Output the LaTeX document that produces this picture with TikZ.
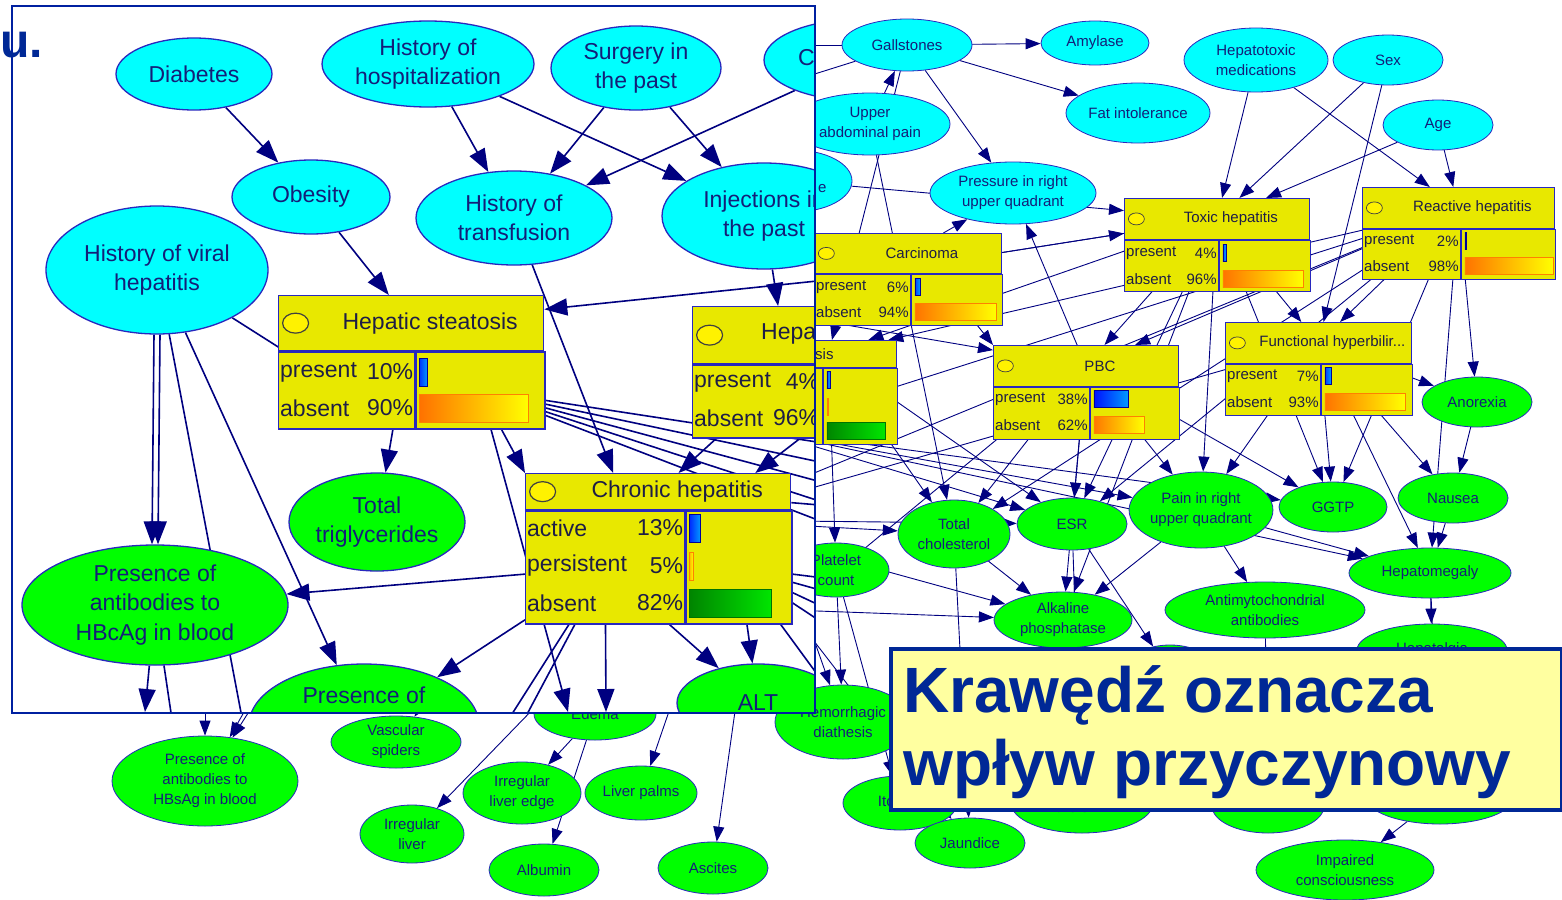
\documentclass[tikz,border=0pt]{standalone}
\usepackage{fontspec}
\setmainfont{Liberation Sans}
\usetikzlibrary{arrows.meta, positioning, shapes.geometric}

\definecolor{netcyan}{RGB}{0,255,255}
\definecolor{netgreen}{RGB}{0,255,0}
\definecolor{netyellow}{RGB}{232,232,0}
\definecolor{nodeline}{RGB}{40,40,190}
\definecolor{nettext}{RGB}{20,30,120}
\definecolor{boxtext}{RGB}{30,30,70}
\definecolor{arcnavy}{RGB}{0,0,128}
\definecolor{frameblue}{RGB}{0,32,160}
\definecolor{notefill}{RGB}{255,255,160}
\definecolor{noteblue}{RGB}{0,40,150}

\newcommand{\bgfont}{\fontsize{15}{20}\selectfont}
\newcommand{\infont}{\fontsize{23}{29.5}\selectfont}
\newcommand{\barh}{17}

\pgfdeclarelayer{bgedge}
\pgfdeclarelayer{bgnode}
\pgfdeclarelayer{infill}
\pgfdeclarelayer{inedge}
\pgfsetlayers{bgedge,bgnode,infill,inedge,main}

% box: name, x, y, width, head height, body height, split, title
\newcommand{\cptbox}[8]{%
  \node[cpthead, minimum width=#4pt, minimum height=#5pt, anchor=north west] (#1) at (#2,#3) {};
  \node[cpthead, minimum width=#7pt, minimum height=#6pt, anchor=north west] (#1-l) at (#1.south west) {};
  \node[cpthead, minimum width=#4pt-#7pt, minimum height=#6pt, anchor=north west] (#1-r) at (#1-l.north east) {};
  \node[cptdot, right=4pt of #1.west] (#1-d) {};
  \node[cpttitle] (#1-t) at (#1.center) {#8};
}
% row: box, index, y, state, percent, bar length, bar style
\newcommand{\cptrow}[7]{%
  \node[cpttext, anchor=west] (#1-s#2) at (#1-l.west |- 0,#3) {#4};
  \node[cpttext, anchor=east] (#1-v#2) at (#1-l.east |- 0,#3) {#5};
  \draw[#7] (#1-r.west |- 0,#3) ++(4,-\barh/2) rectangle ++(#6,\barh);
}

\begin{document}
\begin{tikzpicture}[x=1pt, y=-1pt,
    bgin/.style={ellipse, draw=nodeline, fill=netcyan, line width=0.8pt, inner sep=0pt,
      align=center, text=nettext, font=\bgfont},
    bgout/.style={bgin, fill=netgreen},
    cpthead/.style={draw=nodeline, fill=netyellow, line width=0.8pt, inner sep=0pt},
    cptdot/.style={ellipse, draw=black!75, fill=yellow, line width=0.7pt,
      minimum width=16pt, minimum height=12pt, inner sep=0pt},
    cptlabel/.style={font=\bgfont, text=boxtext, inner sep=1pt},
    cpttitle/.style={cptlabel, xshift=14pt},
    cpttext/.style={cptlabel, inner sep=2pt},
    barblue/.style={draw=blue!60!black, line width=0.6pt, left color=blue, right color=cyan!60!blue},
    barorange/.style={draw=orange, line width=0.6pt, left color=orange!85!red, right color=yellow},
    bargreen/.style={draw=green!45!black, line width=0.6pt, left color=green!50!black, right color=green!90!black},
    arrow/.style={draw=arcnavy, line width=0.9pt, -{Triangle[length=15pt,width=11pt]}},
    notebox/.style={draw=noteblue, fill=notefill, line width=3.5pt},
    notetext/.style={font={\fontsize{64}{73}\selectfont\bfseries}, text=noteblue, inner sep=0pt}
  ]
  \useasboundingbox (0,0) rectangle (1562,899);

  % whole network, small
  \begin{pgfonlayer}{bgnode}
    \node[bgin, minimum width=130pt, minimum height=52pt] (gall) at (907,45) {Gallstones};
    \node[bgin, minimum width=108pt, minimum height=44pt] (amyl) at (1095,43) {Amylase};
    \node[bgin, minimum width=144pt, minimum height=64pt] (hepmed) at (1256,60) {Hepatotoxic\\medications};
    \node[bgin, minimum width=110pt, minimum height=50pt] (sex) at (1388,60) {Sex};
    \node[bgin, minimum width=110pt, minimum height=50pt] (age) at (1438,125) {Age};
    \node[bgin, minimum width=160pt, minimum height=62pt] (upab) at (870,124) {Upper\\abdominal pain};
    \node[bgin, minimum width=144pt, minimum height=60pt] (fatint) at (1138,113) {Fat intolerance};
    \node[bgin, minimum width=166pt, minimum height=62pt] (press) at (1013,193) {Pressure in right\\upper quadrant};
    \node[bgin, minimum width=116pt, minimum height=62pt] (injbg) at (794,181) {};
    \node[cptlabel, anchor=west, text=nettext] (injbg-t) at (817,189) {e};

    \node[bgout, minimum width=110pt, minimum height=50pt] (anor) at (1477,402) {Anorexia};
    \node[bgout, minimum width=110pt, minimum height=50pt] (naus) at (1453,498) {Nausea};
    \node[bgout, minimum width=108pt, minimum height=50pt] (ggtp) at (1333,507) {GGTP};
    \node[bgout, minimum width=140pt, minimum height=76pt] (pain) at (1201,510) {Pain in right\\upper quadrant};
    \node[bgout, minimum width=110pt, minimum height=52pt] (esr) at (1072,524) {ESR};
    \node[bgout, minimum width=112pt, minimum height=68pt] (chol) at (954,534) {Total\\cholesterol};
    \node[bgout, minimum width=106pt, minimum height=54pt] (plat) at (836,570) {Platelet\\count};
    \node[bgout, minimum width=138pt, minimum height=56pt] (alk) at (1063,620) {Alkaline\\phosphatase};
    \node[bgout, minimum width=200pt, minimum height=56pt] (antim) at (1265,610) {Antimytochondrial\\antibodies};
    \node[bgout, minimum width=162pt, minimum height=50pt] (hmeg) at (1430,573) {Hepatomegaly};
    \node[bgout, minimum width=150pt, minimum height=52pt] (halg) at (1432,650) {Hepatalgia};
    \node[bgout, minimum width=92pt, minimum height=54pt] (hidg) at (1170,672) {};
    \node[bgout, minimum width=136pt, minimum height=74pt] (hemor) at (843,722) {Hemorrhagic\\diathesis};
    \node[bgout, minimum width=114pt, minimum height=54pt] (itch) at (900,803) {Itching};
    \node[bgout, minimum width=110pt, minimum height=50pt] (jaund) at (970,843) {Jaundice};
    \node[bgout, minimum width=142pt, minimum height=60pt] (skin) at (1082,803) {\mbox{}\\the skin};
    \node[bgout, minimum width=112pt, minimum height=54pt] (urea) at (1268,806) {Blood urea};
    \node[bgout, minimum width=150pt, minimum height=56pt] (livact) at (1440,796) {};
    \node[bgout, minimum width=178pt, minimum height=60pt] (impair) at (1345,870) {Impaired\\consciousness};

    \node[bgout, minimum width=186pt, minimum height=90pt] (hbsag) at (205,781) {Presence of\\antibodies to\\HBsAg in blood};
    \node[bgout, minimum width=130pt, minimum height=52pt] (vasc) at (396,742) {Vascular\\spiders};
    \node[bgout, minimum width=104pt, minimum height=58pt] (irrl) at (412,834) {Irregular\\liver};
    \node[bgout, minimum width=118pt, minimum height=62pt] (irrle) at (522,793) {Irregular\\liver edge};
    \node[bgout, minimum width=112pt, minimum height=54pt] (palms) at (641,793) {Liver palms};
    \node[bgout, minimum width=110pt, minimum height=52pt] (album) at (544,870) {Albumin};
    \node[bgout, minimum width=110pt, minimum height=52pt] (ascit) at (713,868) {Ascites};
    \node[bgout, minimum width=122pt, minimum height=52pt] (edema) at (595,714) {Edema};

    \cptbox{carc}{814}{233}{187}{40}{51}{96}{Carcinoma}
    \cptrow{carc}{1}{287}{present}{6\%}{5}{barblue}
    \cptrow{carc}{2}{312}{absent}{94\%}{81}{barorange}
    \cptbox{toxic}{1124}{198}{185}{41}{51}{94}{Toxic hepatitis}
    \cptrow{toxic}{1}{253}{present}{4\%}{3}{barblue}
    \cptrow{toxic}{2}{279}{absent}{96\%}{80}{barorange}
    \cptbox{react}{1362}{187}{192}{41}{50}{98}{Reactive hepatitis}
    \cptrow{react}{1}{241}{present}{2\%}{1}{barblue}
    \cptrow{react}{2}{266}{absent}{98\%}{88}{barorange}
    \cptbox{pbc}{993}{345}{185}{41}{52}{96}{PBC}
    \cptrow{pbc}{1}{399}{present}{38\%}{34}{barblue}
    \cptrow{pbc}{2}{425}{absent}{62\%}{50}{barorange}
    \cptbox{func}{1225}{322}{186}{41}{51}{95}{Functional hyperbilir...}
    \cptrow{func}{1}{376}{present}{7\%}{6}{barblue}
    \cptrow{func}{2}{402}{absent}{93\%}{80}{barorange}
    \cptbox{fib}{760}{340}{136}{27}{76}{62}{}
    \node[cptlabel, anchor=west] (fib-n) at (814,354) {sis};
    \cptrow{fib}{1}{380}{}{}{3}{barblue}
    \cptrow{fib}{2}{407}{}{}{1}{barorange}
    \cptrow{fib}{3}{431}{}{}{58}{bargreen}
  \end{pgfonlayer}

  \begin{pgfonlayer}{bgedge}
    \coordinate (hA) at (700,300);
    \coordinate (hB) at (760,430);
    \coordinate (hC) at (700,520);
    \coordinate (hD) at (790,610);
    \coordinate (hE) at (205,600);
    \coordinate (hF) at (330,560);
    \coordinate (hF2) at (345,560);
    \coordinate (hG) at (470,640);
    \coordinate (hH) at (600,640);
    \coordinate (hI) at (690,650);
    \coordinate (hJ) at (600,600);
    \coordinate (hK) at (745,640);
    \coordinate (hL) at (700,45);
    \coordinate (hM) at (800,600);
    \coordinate (hN) at (700,110);

    \foreach \a/\b in {gall/amyl, gall/fatint, upab/gall, gall/press, gall/fib, upab/chol,
        hepmed/toxic, hepmed/react, sex/toxic, sex/func, age/react, age/toxic, injbg/toxic,
        carc/press, pbc/press, toxic/pbc, react/pbc, toxic/func, react/func,
        react/anor, func/anor, anor/naus, naus/hmeg, hmeg/halg, func/ggtp, toxic/ggtp,
        react/ggtp, func/hmeg, react/hmeg, func/naus, pain/hmeg, pain/antim, pbc/ggtp,
        pbc/pain, toxic/pain, func/pain, pbc/esr, toxic/esr, fib/esr, pbc/chol, fib/chol,
        fib/plat, pbc/alk, toxic/alk, chol/alk, plat/hemor, esr/hidg, react/fib, toxic/fib,
        pain/alk, chol/jaund, plat/itch, antim/urea, hmeg/livact, livact/impair, esr/skin,
        react/chol, react/esr}
      \draw[arrow] (\a) -- (\b);
    \draw[arrow] (carc-r) -- (pbc.north west);

    \foreach \a/\b in {hA/toxic, hB/esr, hB/pain, hB/ggtp, hB/hmeg, hC/chol, hC/alk, hC/plat,
        hD/alk, hD/jaund, hA/pbc, hC/esr, hE/hbsag, hF/hbsag, hF2/hbsag, hG/vasc, hH/irrl,
        hJ/edema, hI/palms, hK/ascit, hM/hemor, react/hB, react/hC, toxic/hA, func/hC,
        pbc/hD, gall/hL, gall/hN, edema/irrle, edema/album}
      \draw[arrow] (\a) -- (\b);
  \end{pgfonlayer}

  % enlarged part
  \begin{pgfonlayer}{infill}
    \fill[white] (12,6) rectangle (815,713);
  \end{pgfonlayer}
  \begin{scope}[
      inin/.style={ellipse, draw=nodeline, fill=netcyan, line width=1.3pt, inner sep=0pt,
        align=center, text=nettext, font=\infont},
      inout/.style={inin, fill=netgreen},
      cpthead/.style={draw=nodeline, fill=netyellow, line width=1.3pt, inner sep=0pt},
      cptdot/.style={ellipse, draw=black!75, fill=yellow, line width=1.2pt,
        minimum width=26pt, minimum height=20pt, inner sep=0pt},
      cpttitle/.style={cptlabel, font=\infont, xshift=19pt},
      cpttext/.style={cptlabel, font=\infont, inner sep=2pt},
      arrow/.style={draw=arcnavy, line width=1.6pt, -{Triangle[length=23pt,width=17pt]}}]
    \renewcommand{\barh}{28}
    \begin{scope}
      \clip (12,6) rectangle (815,713);
      \node[inin, minimum width=156pt, minimum height=72pt] (diab) at (194,74) {Diabetes};
      \node[inin, minimum width=212pt, minimum height=86pt] (hosp) at (428,64) {History of\\hospitalization};
      \node[inin, minimum width=170pt, minimum height=84pt] (surg) at (636,68) {Surgery in\\the past};
      \node[inin, minimum width=196pt, minimum height=82pt] (chole) at (862,60) {};
      \node[cptlabel, font=\infont, text=nettext, anchor=west] (chole-t) at (797,57) {Ch};
      \node[inin, minimum width=158pt, minimum height=74pt] (obes) at (311,197) {Obesity};
      \node[inin, minimum width=222pt, minimum height=128pt] (viral) at (157,270) {History of viral\\hepatitis};
      \node[inin, minimum width=196pt, minimum height=94pt] (transf) at (514,218) {History of\\transfusion};
      \node[inin, minimum width=204pt, minimum height=106pt] (inject) at (764,216) {Injections in\\the past};

      \node[inout, minimum width=176pt, minimum height=98pt] (trig) at (377,522) {Total\\triglycerides};
      \node[inout, minimum width=266pt, minimum height=120pt] (hbcag) at (155,605) {Presence of\\antibodies to\\HBcAg in blood};
      \node[inout, minimum width=230pt, minimum height=122pt] (presb) at (364,725) {Presence of\\\mbox{}\\\mbox{}};
      \node[inout, minimum width=162pt, minimum height=78pt] (alt) at (758,703) {ALT};

      \cptbox{steat}{278}{295}{265}{55}{77}{136}{Hepatic steatosis}
      \cptrow{steat}{1}{372}{present}{10\%}{8}{barblue}
      \cptrow{steat}{2}{408}{absent}{90\%}{109}{barorange}
      \cptbox{hepa}{692}{306}{180}{57}{73}{128}{}
      \node[cptlabel, font=\infont, anchor=west] (hepa-n) at (760,334) {Hepa};
      \cptrow{hepa}{1}{382}{present}{4\%}{6}{barblue}
      \cptrow{hepa}{2}{418}{absent}{96\%}{120}{barorange}
      \cptbox{chron}{525}{473}{265}{36}{113}{159}{Chronic hepatitis}
      \cptrow{chron}{1}{528}{active}{13\%}{11}{barblue}
      \cptrow{chron}{2}{566}{persistent}{5\%}{4}{barorange}
      \cptrow{chron}{3}{603}{absent}{82\%}{82}{bargreen}
    \end{scope}

    \begin{pgfonlayer}{inedge}
      \begin{scope}
        \clip (12,6) rectangle (815,713);
        \coordinate (ioA) at (1000,262);
        \coordinate (ioB) at (1000,470);
        \coordinate (ioC) at (1000,500);
        \coordinate (ioD) at (1000,530);
        \coordinate (ioE) at (1000,560);
        \coordinate (ioF) at (1000,590);
        \coordinate (ioI) at (1000,600);
        \coordinate (ioJ) at (1000,640);
        \coordinate (ioK) at (1000,690);
        \coordinate (ioL) at (1000,740);
        \coordinate (ioM) at (1000,520);
        \coordinate (ioN) at (880,760);
        \coordinate (iedA) at (568,712);
        \coordinate (iedB) at (606,712);
        \coordinate (ihbA) at (145,712);
        \coordinate (ihbB) at (250,760);
        \coordinate (ihbC) at (178,760);
        \coordinate (ivA) at (470,780);
        \coordinate (ivB) at (492,780);

        \foreach \a/\b in {diab/obes, hosp/transf, hosp/inject, surg/transf, surg/inject,
            chole/transf, ioA/steat, obes/steat, steat/trig, inject/hepa, viral/presb,
            viral/ihbB, hbcag/ihbA, hbcag/ihbC, chron-l/hbcag, chron-l/presb, chron-l/alt,
            chron-r/alt, hepa-l/chron, steat-r/iedA, chron-l/iedB, chron-l/ivA, chron-l/ivB,
            chron/ioM, chron-r/ioN}
          \draw[arrow] (\a) -- (\b);
        \draw[arrow] (steat-r) -- (chron.north west);
        \draw[arrow] (transf) -- ([xshift=-45pt]chron.north);
        \draw[arrow] (hepa-r) -- ([xshift=-36pt]chron.north east);
        \draw[arrow] ([xshift=-3pt]viral.south) -- ([xshift=-3pt]hbcag.north);
        \draw[arrow] ([xshift=3pt]viral.south) -- ([xshift=3pt]hbcag.north);
        \draw[arrow, -] (viral) -- (steat-l);
        \foreach \t in {ioB,ioC,ioD,ioE,ioF}
          \draw[arrow] (steat-r) -- (\t);
        \foreach \t in {ioI,ioJ,ioK,ioL}
          \draw[arrow] (chron-r) -- (\t);
      \end{scope}
    \end{pgfonlayer}
  \end{scope}
  \draw[frameblue, line width=2.5pt] (12,6) rectangle (815,713);

  \node[anchor=base west, inner sep=0pt, font={\fontsize{48}{50}\selectfont\bfseries},
    text=noteblue] (tail) at (0,57) {u.};

  % note
  \node[notebox, minimum width=671pt, minimum height=161pt, anchor=north west] (note) at (889,647) {};
  \node[notetext, anchor=base west] (note-a) at (903,712) {Krawędź oznacza};
  \node[notetext, anchor=base west] (note-b) at (903,785) {wpływ przyczynowy};
\end{tikzpicture}
\end{document}
